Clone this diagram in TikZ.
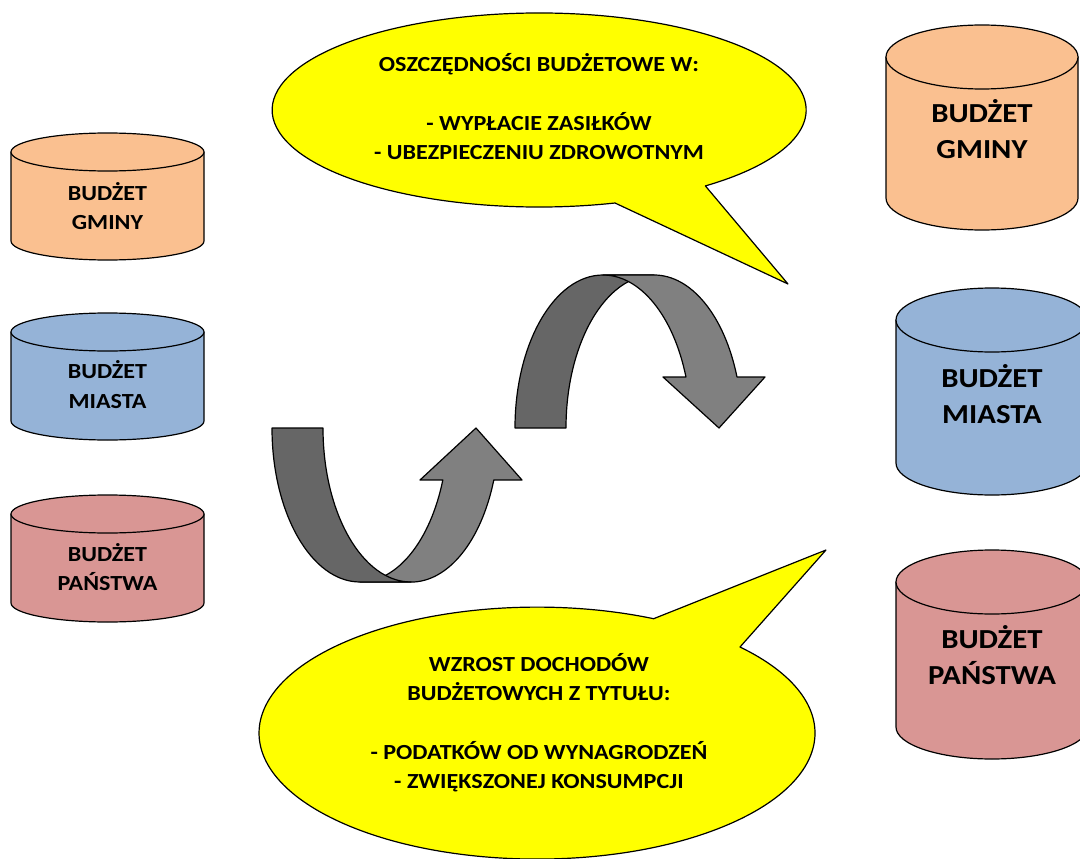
\documentclass[tikz,border=0pt]{standalone}
\usepackage{fontspec}
\newfontfamily\cf{Carlito}[FakeStretch=1.12]
\definecolor{gminaC}{HTML}{FAC090}
\definecolor{miastoC}{HTML}{95B3D7}
\definecolor{panstwoC}{HTML}{D99694}
\definecolor{calloutC}{HTML}{FFFF00}
\definecolor{ribbonDark}{HTML}{666666}
\definecolor{ribbonLight}{HTML}{808080}
\tikzset{
  outline/.style={draw=black, line width=1.2pt, line join=round},
  ribbondark/.style={outline, fill=ribbonDark},
  ribbonlight/.style={outline, fill=ribbonLight},
  bubble/.style={outline, fill=calloutC},
  smalltxt/.style={align=center, inner sep=0pt, font=\cf\bfseries\fontsize{21.5}{29.3}\selectfont},
  bigtxt/.style={align=center, inner sep=0pt, font=\cf\bfseries\fontsize{27.5}{36}\selectfont},
}
% #1 cx, #2 y of top ellipse centre, #3 y of bottom ellipse centre, #4 rx, #5 ry, #6 colour
\newcommand\drumshape[6]{%
  \path[outline, fill=#6] (#1-#4,#2) -- (#1-#4,#3)
     arc[start angle=180, end angle=0, x radius=#4, y radius=#5] -- (#1+#4,#2) -- cycle;
  \path[outline, fill=#6] (#1,#2) ellipse[x radius=#4, y radius=#5];
}
\begin{document}
\begin{tikzpicture}[x=1pt, y=-1pt]
\useasboundingbox (0,0) rectangle (1080,859);
\clip (0,0) rectangle (1080,859);

% left cylinders
\drumshape{107.5}{152}{241}{96.5}{19}{gminaC}
\drumshape{107.5}{332}{421}{96.5}{19}{miastoC}
\drumshape{107.5}{514}{603}{96.5}{19}{panstwoC}
\node[smalltxt] (lgmina)   at (107.5,206) {BUDŻET\\GMINY};
\node[smalltxt] (lmiasto)  at (107.5,384.5)   {BUDŻET\\MIASTA};
\node[smalltxt] (lpanstwo) at (107.5,567) {BUDŻET\\PAŃSTWA};

% right cylinders
\drumshape{982}{57}{198}{96}{32}{gminaC}
\drumshape{992}{320}{463}{96}{32}{miastoC}
\drumshape{992}{582}{727}{96}{32}{panstwoC}
\node[bigtxt] (rgmina)   at (982,129) {BUDŻET\\GMINY};
\node[bigtxt] (rmiasto)  at (992,394) {BUDŻET\\MIASTA};
\node[bigtxt] (rpanstwo) at (992,655) {BUDŻET\\PAŃSTWA};

% callouts
\path[bubble] (615,203) arc[start angle=73.5, end angle=411.5, x radius=267, y radius=97]
   -- (788,284) -- cycle;
\node[smalltxt] (savings) at (539,107)
   {OSZCZĘDNOŚCI BUDŻETOWE W:\\[29.3pt]- WYPŁACIE ZASIŁKÓW\\- UBEZPIECZENIU ZDROWOTNYM};

\path[bubble] (740,647) arc[start angle=-43.1, end angle=294.8, x radius=278, y radius=126]
   -- (826,550) -- cycle;
\node[smalltxt] (income) at (539,722.5)
   {WZROST DOCHODÓW\\BUDŻETOWYCH Z TYTUŁU:\\[29.3pt]- PODATKÓW OD WYNAGRODZEŃ\\- ZWIĘKSZONEJ KONSUMPCJI};

% lower-left U-turn arrow (front band first, back band over it at the fold)
\path[ribbonlight] (360,582) arc[start angle=90, end angle=19.7, x radius=88, y radius=154]
   -- (420,480) -- (476,428) -- (522,480) -- (493.8,480)
   arc[start angle=19.7, end angle=90, x radius=88, y radius=154] -- cycle;
\path[ribbondark] (272,428) arc[start angle=180, end angle=90, x radius=88, y radius=154]
   -- (411,582) arc[start angle=90, end angle=180, x radius=88, y radius=154] -- cycle;

% upper arrow
\path[ribbondark] (515,428) arc[start angle=180, end angle=270, x radius=88, y radius=153]
   -- (654,275) arc[start angle=270, end angle=180, x radius=88, y radius=153] -- cycle;
\path[ribbonlight] (603,275) arc[start angle=270, end angle=340.53, x radius=88, y radius=153]
   -- (663,377) -- (719,428) -- (765,377) -- (737,377)
   arc[start angle=340.53, end angle=270, x radius=88, y radius=153] -- cycle;
\end{tikzpicture}
\end{document}
